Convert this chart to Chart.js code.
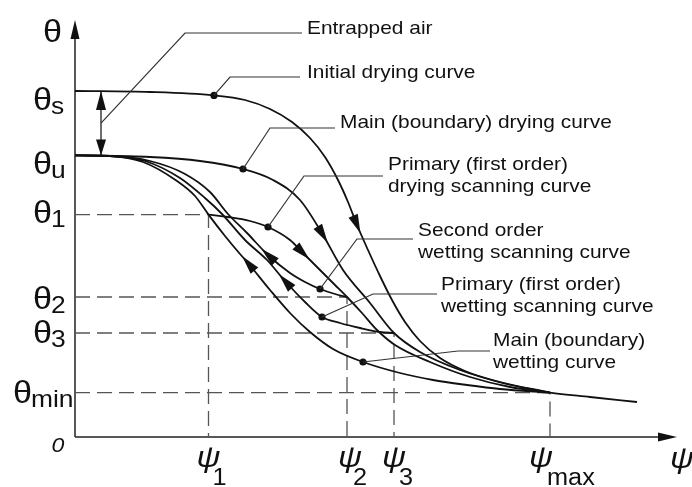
<!DOCTYPE html>
<html>
<head>
<meta charset="utf-8">
<script src="https://cdn.jsdelivr.net/npm/chart.js@4.4.0/dist/chart.umd.min.js"></script>
<style>
html, body { margin: 0; padding: 0; background: #fff; }
#wrap { width: 692px; height: 487px; position: relative; }
</style>
</head>
<body>
<div id="wrap"><canvas id="retentionChart"></canvas></div>
<script>
// levels marked on the axes (theta = water content, psi = suction)
const thetaNames = ['s', 'u', '1', '2', '3', 'min'];
const thetaValues = [86.5, 70.4, 55.6, 35, 26, 11.1];
const psiNames = ['1', '2', '3', 'max'];
const psiValues = [26.7, 54.4, 63.8, 95];
const airPsi = 5.2;

// curves, [psi, theta]
const initialDrying = [[0, 86.5], [15, 86.25], [27.8, 85.4], [34, 84.25], [39, 82], [43.4, 78.75], [47, 74.75], [50, 70], [52.6, 64.25], [54.6, 58.75], [56.4, 53], [58.6, 46.75], [61, 40.25], [63.4, 34.25], [66, 28.75], [69, 24], [73, 19.75], [78, 16.5], [84, 14], [90, 12.25], [95, 11.1], [103, 10], [112.4, 8.75]];
const mainDrying = [[0, 70.4], [15, 70], [25, 69], [33.6, 67], [39.6, 64.25], [45, 59.25], [49.6, 50.5], [53.6, 41.75], [59, 33.5], [63.8, 26], [69, 21.25], [77, 16.75], [85, 13.75], [95, 11.1]];
const primaryDrying = [[26.7, 55.6], [30.6, 55], [35, 54], [38.6, 52.5], [43, 49.25], [45.6, 46], [49, 41.75], [52, 38], [54.4, 35], [57.4, 31], [60.4, 26.75], [64, 23], [71, 18.75], [79, 15], [87, 12.5], [95, 11.1]];
const secondWetting = [[0, 70.4], [7, 70.25], [15, 69], [22, 65.75], [27, 61.25], [30.6, 55.75], [34.4, 51], [38.6, 45.5], [43, 41], [46, 38.75], [49, 37], [52, 35.75], [54.4, 35]];
const primaryWetting = [[0, 70.4], [7, 70.25], [14, 69], [21, 64.75], [26, 59.75], [29.4, 55.75], [34, 49.25], [38.4, 44.25], [42, 39], [46, 33.75], [49.4, 30], [53, 28.5], [57, 27.25], [61, 26.25], [63.8, 26]];
const mainWetting = [[0, 70.4], [7, 70.25], [13.6, 68.75], [20.4, 64], [24, 60.25], [26.7, 55.6], [30, 50.25], [33, 45.75], [34.6, 43.5], [39, 36.75], [43, 31], [47, 26.25], [51.6, 22], [57.6, 18.75], [65, 16], [71.6, 14.25], [78.4, 13], [85, 12], [95, 11.1]];

const curveLabels = [
    ['Entrapped air'],
    ['Initial drying curve'],
    ['Main (boundary) drying curve'],
    ['Primary (first order)', 'drying scanning curve'],
    ['Second order', 'wetting scanning curve'],
    ['Primary (first order)', 'wetting scanning curve'],
    ['Main (boundary)', 'wetting curve']
];

// which point carries the dot / the direction arrow
const curves = [
    {data: initialDrying, dot: 2, arrow: 10, dir: 1},
    {data: mainDrying, dot: 3, arrow: 6, dir: 1},
    {data: primaryDrying, dot: 3, arrow: 5, dir: 1},
    {data: secondWetting, dot: 10, arrow: 7, dir: -1},
    {data: primaryWetting, dot: 10, arrow: 8, dir: -1},
    {data: mainWetting, dot: 13, arrow: 8, dir: -1}
];

// label placement (pixels): text left/baseline, leader elbow points
const labelLayout = [
    {x: 307, y: 34, elbow: [[185, 33], [302, 33]]},
    {x: 307, y: 78, elbow: [[230, 77], [300, 77]]},
    {x: 340, y: 128, elbow: [[270, 128], [335, 128]]},
    {x: 388, y: 170, elbow: [[304, 176], [383, 176]]},
    {x: 418, y: 236, elbow: [[357, 239], [413, 239]]},
    {x: 441, y: 290, elbow: [[373, 294], [437, 294]]},
    {x: 493, y: 346, elbow: [[458, 351], [490, 351]]}
];
const lineGap = 22;
const thetaDy = [19, 19, 8.5, 12, 10, 10.5];
const psiDx = [0, 3, 0, -9];
const subDx = [4, 6, 5, -3];
const FONT = '"Liberation Sans", Arial, sans-serif';
const XS = 1.1;

function pts(arr) { return arr.map(p => ({x: p[0], y: p[1]})); }

function txt(ctx, s, x, y, size, opt) {
    opt = opt || {};
    ctx.save();
    ctx.font = (opt.italic ? 'italic ' : '') + size + 'px ' + FONT;
    ctx.fillStyle = '#111';
    ctx.textAlign = opt.align || 'left';
    ctx.textBaseline = 'alphabetic';
    ctx.translate(x, y);
    ctx.scale(XS, 1);
    ctx.fillText(s, 0, 0);
    const w = ctx.measureText(s).width * XS;
    ctx.restore();
    return w;
}

function head(ctx, tx, ty, dx, dy, len, half) {
    const bx = tx - dx * len, by = ty - dy * len;
    ctx.beginPath();
    ctx.moveTo(tx, ty);
    ctx.lineTo(bx - dy * half, by + dx * half);
    ctx.lineTo(bx + dy * half, by - dx * half);
    ctx.closePath();
    ctx.fill();
}

const datasets = [];
curves.forEach(c => {
    datasets.push({
        data: pts(c.data),
        borderColor: '#111',
        borderWidth: 1.8,
        cubicInterpolationMode: 'monotone',
        pointRadius: ctx => ctx.dataIndex === c.dot ? 3.6 : 0,
        pointBackgroundColor: '#111',
        pointBorderWidth: 0,
        fill: false,
        order: 0
    });
});
// dashed guides theta_i -> psi_i
psiValues.forEach((p, i) => {
    const t = thetaValues[i + 2];
    datasets.push({
        data: [{x: 0, y: t}, {x: p, y: t}, {x: p, y: 0}],
        borderColor: '#555',
        borderWidth: 1.3,
        borderDash: [15, 7],
        pointRadius: 0,
        tension: 0,
        fill: false,
        order: 2
    });
});
// entrapped air span
datasets.push({
    data: [{x: airPsi, y: thetaValues[0]}, {x: airPsi, y: thetaValues[1]}],
    borderColor: '#222',
    borderWidth: 1.3,
    pointRadius: 0,
    tension: 0,
    fill: false,
    order: 1
});

const sketch = {
    id: 'sketch',
    beforeDatasetsDraw(chart) {
        const {ctx, chartArea, scales: {x, y}} = chart;
        const x0 = x.getPixelForValue(0), y0 = y.getPixelForValue(0);
        ctx.save();
        ctx.strokeStyle = '#222';
        ctx.fillStyle = '#111';
        ctx.lineWidth = 1.5;
        ctx.beginPath();
        ctx.moveTo(x0, y0); ctx.lineTo(x0, chartArea.top + 10);
        ctx.moveTo(x0, y0); ctx.lineTo(chartArea.right - 10, y0);
        ctx.stroke();
        head(ctx, x0, chartArea.top - 1, 0, -1, 19, 4.5);
        head(ctx, chartArea.right + 2, y0, 1, 0, 19, 4.5);
        ctx.restore();
    },
    afterDatasetsDraw(chart) {
        const {ctx, scales: {x, y}} = chart;
        ctx.save();
        ctx.fillStyle = '#111';
        // direction arrows on curves
        curves.forEach((c, i) => {
            const els = chart.getDatasetMeta(i).data;
            const p = els[c.arrow];
            let dx = p.cp2x - p.cp1x, dy = p.cp2y - p.cp1y;
            if (!isFinite(dx) || !isFinite(dy)) {
                dx = els[c.arrow + 1].x - els[c.arrow - 1].x;
                dy = els[c.arrow + 1].y - els[c.arrow - 1].y;
            }
            const n = Math.hypot(dx, dy);
            dx = dx / n * c.dir; dy = dy / n * c.dir;
            head(ctx, p.x + dx * 9, p.y + dy * 9, dx, dy, 19, 5);
        });
        // entrapped air double arrow
        const ax = x.getPixelForValue(airPsi);
        const ys = y.getPixelForValue(thetaValues[0]), yu = y.getPixelForValue(thetaValues[1]);
        head(ctx, ax, ys, 0, -1, 19, 5);
        head(ctx, ax, yu, 0, 1, 16, 5);

        // leaders
        ctx.strokeStyle = '#333';
        ctx.lineWidth = 1.2;
        labelLayout.forEach((L, i) => {
            let sx, sy;
            if (i === 0) { sx = ax; sy = (ys + yu) / 2; }
            else {
                const p = chart.getDatasetMeta(i - 1).data[curves[i - 1].dot];
                sx = p.x; sy = p.y;
            }
            ctx.beginPath();
            ctx.moveTo(sx, sy);
            L.elbow.forEach(e => ctx.lineTo(e[0], e[1]));
            ctx.stroke();
            curveLabels[i].forEach((s, k) => txt(ctx, s, L.x, L.y + k * lineGap, 19));
        });

        // axis symbols
        txt(ctx, '\u03B8', 43, 42, 31);
        thetaValues.forEach((v, i) => {
            const base = y.getPixelForValue(v) + thetaDy[i];
            const left = i === 5 ? 13 : 33;
            const w = txt(ctx, '\u03B8', left, base, 31);
            txt(ctx, thetaNames[i], left + w - 1, base + 4, 24);
        });
        psiValues.forEach((v, i) => {
            const px = x.getPixelForValue(v);
            txt(ctx, '\u03C8', px + psiDx[i], 467, 30, {italic: true, align: 'center'});
            txt(ctx, psiNames[i], px + subDx[i], 485, 23);
        });
        txt(ctx, '\u03C8', 670, 468, 30, {italic: true});
        txt(ctx, '0', 58, 452, 21, {italic: true, align: 'center'});
        ctx.restore();
    }
};

new Chart(document.getElementById('retentionChart'), {
    type: 'line',
    data: {datasets: datasets},
    options: {
        responsive: true,
        maintainAspectRatio: false,
        animation: false,
        layout: {padding: {left: 75, right: 17, top: 21, bottom: 50}},
        scales: {
            x: {type: 'linear', min: 0, max: 120, display: false},
            y: {type: 'linear', min: 0, max: 104, display: false}
        },
        plugins: {legend: {display: false}, tooltip: {enabled: false}}
    },
    plugins: [sketch]
});
</script>
</body>
</html>
